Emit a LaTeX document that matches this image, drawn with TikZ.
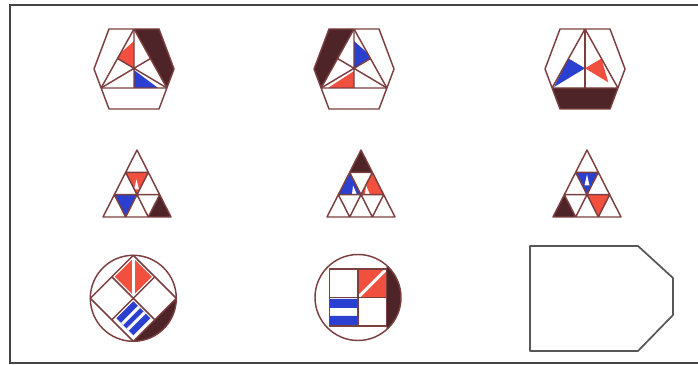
\documentclass[tikz,border=0pt]{standalone}
\usepackage{tikz}
\usetikzlibrary{calc}
\definecolor{Outline}{HTML}{7B3F3F}
\definecolor{Maroon}{HTML}{4E2428}
\definecolor{Red}{HTML}{F2503F}
\definecolor{Blue}{HTML}{2B3FD0}
\definecolor{Frame}{HTML}{444444}

\begin{document}
\begin{tikzpicture}[
  x=0.2646mm,y=-0.2646mm,
  figline/.style={draw=Outline,line width=1.1pt,line join=round},
  dark/.style={fill=Maroon},
  redpatch/.style={fill=Red},
  bluepatch/.style={fill=Blue},
  whiteband/.style={draw=white,line width=2.2pt},
  answer/.style={draw=Frame!90,line width=1.3pt,line join=round},
  border/.style={draw=Frame,line width=1.4pt}
]
\useasboundingbox (0,0) rectangle (698,365);
\draw[border] (698,5)--(10,5)--(10,363)--(698,363);

% Row 1: hexagons with a split triangle.
\begin{scope}[shift={(134,69)}]
  \fill[dark] (0,-40)--(25,-40)--(40,0)--(32.9,19)--cycle;
  \fill[redpatch] (0,-28)--(-13.4,-16)--(-16.45,-10.5)--(0,-0.7)--cycle;
  \fill[bluepatch] (0,1)--(0,19)--(24,19)--cycle;
  \draw[figline] (0,-40)--(0,19) (-32.9,19)--(16.45,-10.5)
    (32.9,19)--(-16.45,-10.5);
\end{scope}
\begin{scope}[shift={(354,69)}]
  \fill[dark] (0,-40)--(-25,-40)--(-40,0)--(-32.9,19)--cycle;
  \fill[bluepatch] (0,-28)--(13.4,-16)--(16.45,-10.5)--(0,-0.7)--cycle;
  \fill[redpatch] (0,2)--(0,19)--(-26,19)--cycle;
  \draw[figline] (0,-40)--(0,19) (-32.9,19)--(16.45,-10.5)
    (32.9,19)--(-16.45,-10.5);
\end{scope}
\begin{scope}[shift={(585,69)}]
  \fill[dark] (-32.9,19)--(32.9,19)--(25,40)--(-25,40)--cycle;
  \fill[bluepatch] (-31,18)--(-16.45,-10.5)--(0,-0.7)--cycle;
  \fill[redpatch] (0,-0.7)--(16.45,-10.5)--(23.3,13.3)--cycle;
  \draw[figline] (0,-40)--(0,19);
\end{scope}
\foreach \cx in {134,354,585}
  \draw[figline,shift={(\cx,69)}]
    (-25,-40)--(25,-40)--(40,0)--(25,40)--(-25,40)--(-40,0)--cycle
    (-32.9,19)--(0,-40)--(32.9,19)--cycle;

% Row 2: triangles cut into nine.
\begin{scope}[shift={(137,183.5)}]
  \fill[redpatch] (-11.33,-11.17)--(11.33,-11.17)--(0,11.17)--cycle;
  \fill[white] (-3,6)--(2,6)--(-0.5,-4)--cycle;
  \fill[bluepatch] (-22.67,11.17)--(0,11.17)--(-11.33,33.5)--cycle;
  \fill[dark] (22.67,11.17)--(11.33,33.5)--(34,33.5)--cycle;
\end{scope}
\begin{scope}[shift={(361,183.5)}]
  \fill[dark] (0,-33.5)--(-11.33,-11.17)--(11.33,-11.17)--cycle;
  \fill[bluepatch] (-11.33,-11.17)--(-22.67,11.17)--(0,11.17)--cycle;
  \fill[white] (-9,11.17)--(-4,11.17)--(-8,2)--cycle;
  \fill[redpatch] (11.33,-11.17)--(0,11.17)--(22.67,11.17)--cycle;
  \fill[white] (4,11.17)--(9,11.17)--(5,2)--cycle;
\end{scope}
\begin{scope}[shift={(587,183.5)}]
  \fill[bluepatch] (-11.33,-11.17)--(11.33,-11.17)--(0,11.17)--cycle;
  \fill[white] (-2.5,2)--(2.5,2)--(0,-9)--cycle;
  \fill[redpatch] (0,11.17)--(22.67,11.17)--(11.33,33.5)--cycle;
  \fill[dark] (-22.67,11.17)--(-34,33.5)--(-11.33,33.5)--cycle;
\end{scope}
\foreach \cx in {137,361,587}
  \draw[figline,shift={(\cx,183.5)}]
    (0,-33.5)--(-34,33.5)--(34,33.5)--cycle
    (-11.33,-11.17)--(11.33,-11.17) (-22.67,11.17)--(22.67,11.17)
    (-11.33,-11.17)--(11.33,33.5) (-22.67,11.17)--(-11.33,33.5)
    (11.33,-11.17)--(-11.33,33.5) (22.67,11.17)--(11.33,33.5);

% Row 3: circles, and the empty answer box.
\begin{scope}[shift={(133.3,298.3)}]
  \fill[dark] (43,0) arc[start angle=0,end angle=90,radius=43]--cycle;
  \fill[redpatch] (0,-40)--(18.5,-21.5)--(0,-3)--(-18.5,-21.5)--cycle;
  \draw[whiteband] (0,-40)--(0,-3);
  \fill[bluepatch] (0,3)--(17,20)--(0,37)--(-17,20)--cycle;
  \draw[whiteband] (-11.33,25.67)--(5.67,8.67) (-5.67,31.33)--(11.33,14.33);
  \draw[figline] (0,0) circle (43);
  \draw[figline] (0,-43)--(43,0)--(0,43)--(-43,0)--cycle
    (-21.5,-21.5)--(21.5,21.5) (21.5,-21.5)--(-21.5,21.5);
\end{scope}
\begin{scope}[shift={(358,297.5)}]
  \fill[dark] (28.5,-32.2) arc[start angle=-48.5,end angle=48.5,radius=43]
    --cycle;
  \fill[redpatch] (0,-28.5) rectangle (28.5,0);
  \begin{scope}
    \clip (0,-28.5) rectangle (28.5,0);
    \draw[whiteband] (0,0)--(28.5,-28.5);
  \end{scope}
  \fill[bluepatch] (-28.5,1.5) rectangle (0,10.5) (-28.5,18.5) rectangle (0,28.5);
  \draw[figline] (0,0) circle (43);
  \draw[figline] (-28.5,-28.5) rectangle (28.5,28.5)
    (0,-28.5)--(0,28.5) (-28.5,0)--(28.5,0);
\end{scope}
\draw[answer] (530,246)--(638,246)--(673,278)--(673,315)--(638,351)
  --(530,351)--cycle;
\end{tikzpicture}
\end{document}
